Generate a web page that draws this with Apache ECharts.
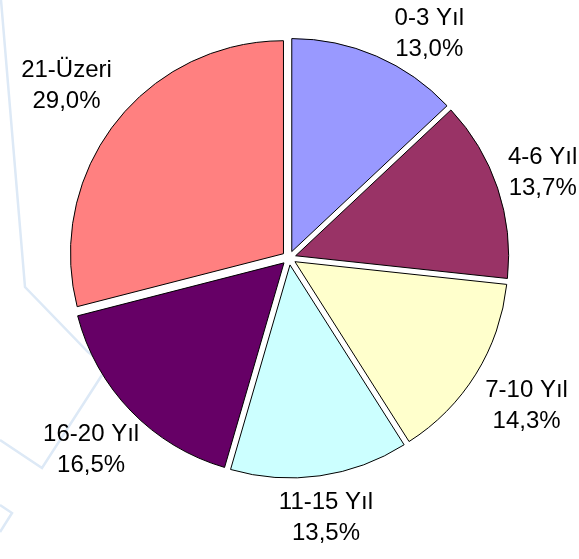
<!DOCTYPE html>
<html>
<head>
<meta charset="utf-8">
<script src="https://cdn.jsdelivr.net/npm/echarts@6/dist/echarts.min.js"></script>
<style>html,body{margin:0;padding:0;background:#fff;}#c{width:579px;height:559px;}</style>
</head>
<body>
<div id="c"></div>
<script>
const categories = ['0-3 Yıl', '4-6 Yıl', '7-10 Yıl', '11-15 Yıl', '16-20 Yıl', '21-Üzeri'];
const values = [13.0, 13.7, 14.3, 13.5, 16.5, 29.0];
const colors = ['#9999FF', '#993366', '#FFFFCC', '#CCFFFF', '#660066', '#FF8080'];

const CENTER = [289, 258], RADIUS = 213, EXPLODE = 7;
const FONT_SIZE = 24, LINE_H = 31, LABEL_GAP = 11, EDGE_MARGIN = 3, CHART_H = 559;
const FONT = 'Liberation Sans, Arial, sans-serif';
const fmt = (name, v) => name + '\n' + v.toFixed(1).replace('.', ',') + '%';
const mctx = document.createElement('canvas').getContext('2d');
mctx.font = FONT_SIZE + 'px ' + FONT;
function boxSize(text) {
  const lines = text.split('\n');
  return {w: Math.max.apply(null, lines.map(l => mctx.measureText(l).width)), h: lines.length * LINE_H};
}
const total = values.reduce((a, b) => a + b, 0);
function midDir(i) {
  let cum = 0;
  for (let k = 0; k < i; k++) cum += values[k];
  const th = (cum + values[i] / 2) / total * 2 * Math.PI;
  return [Math.sin(th), -Math.cos(th)];
}
// label centre along the slice bisector; if it would leave the chart vertically,
// clamp it inside and slide it sideways until it clears the (exploded) pie circle
function labelPos(i) {
  const u = midDir(i);
  const b = boxSize(fmt(categories[i], values[i]));
  const w = b.w / 2, h = b.h / 2;
  const ext = Math.min(Math.abs(u[0]) > 1e-6 ? w / Math.abs(u[0]) : Infinity,
                       Math.abs(u[1]) > 1e-6 ? h / Math.abs(u[1]) : Infinity);
  const d = RADIUS + EXPLODE + LABEL_GAP + ext;
  let x = CENTER[0] + u[0] * d, y = CENTER[1] + u[1] * d;
  const rOut = RADIUS + EXPLODE;
  let clamped = false;
  if (y - h < EDGE_MARGIN) { y = EDGE_MARGIN + h; clamped = true; }
  if (y + h > CHART_H - EDGE_MARGIN) { y = CHART_H - EDGE_MARGIN - h; clamped = true; }
  if (clamped) {
    const nearY = (y < CENTER[1] ? y + h : y - h) - CENTER[1];
    const s = rOut * rOut - nearY * nearY;
    if (s > 0) {
      const dx = Math.sqrt(s) + w;
      x = u[0] >= 0 ? Math.max(x, CENTER[0] + dx) : Math.min(x, CENTER[0] - dx);
    }
  }
  return [x, y];
}

const chart = echarts.init(document.getElementById('c'), null, {renderer: 'canvas'});
const bgLine = {stroke: '#dde9f6', lineWidth: 2.5, fill: null};
chart.setOption({
  animation: false,
  backgroundColor: '#ffffff',
  graphic: [
    {type: 'polyline', z: -10, silent: true, shape: {points: [[1, 0], [25, 287], [88, 352], [140, 390]]}, style: bgLine},
    {type: 'polyline', z: -10, silent: true, shape: {points: [[102, 375], [42, 468], [0, 440]]}, style: bgLine},
    {type: 'polyline', z: -10, silent: true, shape: {points: [[0, 505], [12, 513], [0, 532]]}, style: bgLine}
  ],
  series: [{
    type: 'pie',
    center: CENTER,
    radius: RADIUS,
    startAngle: 90,
    clockwise: true,
    selectedMode: 'multiple',
    selectedOffset: EXPLODE,
    emphasis: {disabled: true},
    itemStyle: {borderColor: '#000', borderWidth: 1},
    label: {show: false},
    labelLine: {show: false},
    data: categories.map((c, i) => ({name: c, value: values[i], selected: true, itemStyle: {color: colors[i]}}))
  }, {
    type: 'pie',
    center: CENTER,
    radius: RADIUS,
    startAngle: 90,
    clockwise: true,
    silent: true,
    avoidLabelOverlap: false,
    emphasis: {disabled: true},
    itemStyle: {color: 'rgba(0,0,0,0)', borderWidth: 0},
    label: {
      show: true,
      position: 'outside',
      fontFamily: FONT,
      fontSize: FONT_SIZE,
      lineHeight: LINE_H,
      color: '#000',
      formatter: p => fmt(p.name, p.value)
    },
    labelLine: {show: false, length: 10, length2: 0},
    labelLayout: function (params) {
      const p = labelPos(params.dataIndex);
      return {x: p[0], y: p[1], align: 'center', verticalAlign: 'middle'};
    },
    data: categories.map((c, i) => ({name: c, value: values[i]}))
  }]
});
</script>
</body>
</html>
